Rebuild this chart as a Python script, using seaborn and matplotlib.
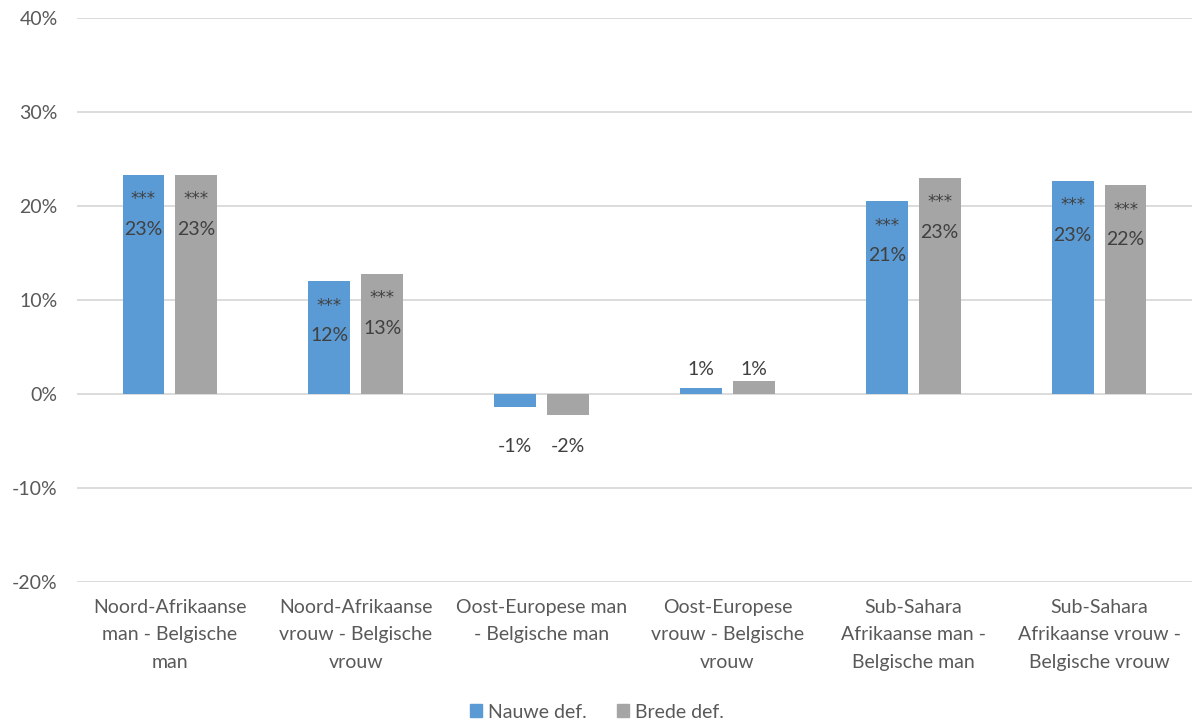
import matplotlib
matplotlib.use("Agg")
import matplotlib.pyplot as plt
import pandas as pd
import seaborn as sns

categories = [
    "Noord-Afrikaanse\nman - Belgische\nman",
    "Noord-Afrikaanse\nvrouw - Belgische\nvrouw",
    "Oost-Europese man\n- Belgische man",
    "Oost-Europese\nvrouw - Belgische\nvrouw",
    "Sub-Sahara\nAfrikaanse man -\nBelgische man",
    "Sub-Sahara\nAfrikaanse vrouw -\nBelgische vrouw",
]
nauwe = [23.3, 12.0, -1.4, 0.6, 20.5, 22.7]
brede = [23.3, 12.8, -2.2, 1.4, 23.0, 22.2]
nauwe_labels = ["23%", "12%", "-1%", "1%", "21%", "23%"]
brede_labels = ["23%", "13%", "-2%", "1%", "23%", "22%"]
nauwe_sig = ["***", "***", "", "", "***", "***"]
brede_sig = ["***", "***", "", "", "***", "***"]
series = ["Nauwe def.", "Brede def."]
colors = ["#5B9BD5", "#A5A5A5"]

df = pd.DataFrame({
    "cat": categories * 2,
    "def": [series[0]] * 6 + [series[1]] * 6,
    "val": nauwe + brede,
})

sns.set_style("white")
plt.rcParams["font.family"] = ["Lato", "DejaVu Sans"]

fig = plt.figure(figsize=(11.94, 7.27), dpi=100)
ax = fig.add_axes([77 / 1194, 1 - 582 / 727, (1192 - 77) / 1194, (582 - 18) / 727])

sns.barplot(data=df, x="cat", y="val", hue="def", order=categories,
            hue_order=series, palette=colors, saturation=1,
            width=0.57, gap=0.21, linewidth=0, ax=ax, legend=False, zorder=3)

ax.set_xlim(-0.5, len(categories) - 0.5)
ax.set_ylim(-20, 40)
ax.set_yticks(range(-20, 41, 10))
ax.set_yticklabels([f"{v}%" for v in range(-20, 41, 10)])
ax.grid(axis="y", color="#D9D9D9", linewidth=1.3, zorder=0)
ax.set_axisbelow(True)
for s in ax.spines.values():
    s.set_visible(False)
ax.tick_params(axis="both", length=0, labelsize=14, labelcolor="#595959")
ax.tick_params(axis="x", pad=12)
ax.tick_params(axis="y", pad=14)
ax.set_xlabel("")
ax.set_ylabel("")
for t in ax.get_xticklabels():
    t.set_linespacing(1.75)

txt = "#404040"
all_vals = list(zip(nauwe, brede))
for container, labels, sigs in zip(ax.containers, [nauwe_labels, brede_labels],
                                   [nauwe_sig, brede_sig]):
    for i, (bar, lab, sig) in enumerate(zip(container, labels, sigs)):
        x = bar.get_x() + bar.get_width() / 2
        h = bar.get_height()
        if sig:
            ax.text(x, h - 2.6, sig, ha="center", va="center", fontsize=12,
                    family="DejaVu Sans", color=txt, zorder=4)
            ax.text(x, h - 5.8, lab, ha="center", va="center", fontsize=14,
                    color=txt, zorder=4)
        elif h >= 0:
            ax.text(x, max(all_vals[i]) + 1.2, lab, ha="center", va="center",
                    fontsize=14, color=txt, zorder=4)
        else:
            ax.text(x, min(all_vals[i]) - 3.4, lab, ha="center", va="center",
                    fontsize=14, color=txt, zorder=4)

handles = [plt.Rectangle((0, 0), 1, 1, color=c) for c in colors]
leg = fig.legend(handles, series, loc="center", bbox_to_anchor=(0.5, 1 - 712 / 727),
                 ncol=2, frameon=False, fontsize=14, handlelength=0.6,
                 handleheight=0.6, handletextpad=0.3, columnspacing=1.6)
for t in leg.get_texts():
    t.set_color("#595959")

fig.savefig("out.png", dpi=100)
